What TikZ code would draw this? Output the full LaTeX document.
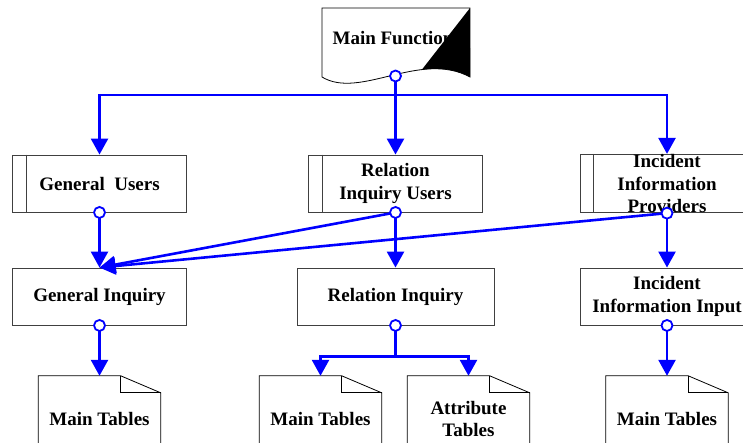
\documentclass[tikz,border=0pt]{standalone}
\usepackage{fontspec}
\setmainfont{Liberation Serif}
\usetikzlibrary{arrows.meta, positioning}
\newcommand{\lblfont}{\bfseries\fontsize{19}{22.5}\selectfont}

\begin{document}
\begin{tikzpicture}
	[   x=1pt, y=-1pt,
		box/.style={draw=black!75, line width=0.9pt, minimum width=174pt, minimum height=57pt, inner sep=0pt, align=center, font=\lblfont},
		doc/.style={minimum width=122pt, minimum height=86pt, inner sep=0pt, align=center, font=\lblfont},
		page/.style={draw=black, line width=0.8pt},
		port/.style={circle, draw=blue, line width=1.8pt, fill=white, minimum size=11pt, inner sep=0pt},
	]
	\tikzset{bus/.style={draw=blue, line width=2.6pt}}
	\tikzset{link/.style={bus, -{Triangle[length=16pt,width=17pt]}}}
	\path[use as bounding box] (0,0) rectangle (743,442);
	\clip (0,0) rectangle (743,442);
	
	% main function
	\draw[page] (322,8) -- (470,8) -- (470,77) .. controls (420,50) and (360,100) .. (322,77) -- cycle;
	\node[font=\lblfont] (mf) at (393,38.5) {Main Function};
	\begin{scope}
		\clip (322,8) -- (470,8) -- (470,77) .. controls (420,50) and (360,100) .. (322,77) -- cycle;
		\fill (470,8) -- (406,90) -- (472,90) -- cycle;
	\end{scope}
	\coordinate (mf-b) at (395.5,76);
	
	% users
	\node[box] (gu) at (99.5,183.5) {General\ \ Users};
	\node[box] (riu) at (395.5,183.5) {Relation\\Inquiry Users};
	\node[box] (iip) at (667,183.5) {Incident\\Information\\Providers};
	\foreach \n in {gu,riu,iip}
	{
		\draw[draw=black!75, line width=0.9pt] ([xshift=14pt]\n.north west) -- ([xshift=14pt]\n.south west);
	}
	
	% functions
	\node[box] (gi) at (99.5,296.5) {General Inquiry};
	\node[box, minimum width=197pt] (ri) at (395.5,296.5) {Relation Inquiry};
	\node[box] (iii) at (667,296.5) {Incident\\Information Input};
	
	% tables
	\node[doc] (mt1) at (99.5,419) {Main Tables};
	\node[doc] (mt2) at (320.5,419) {Main Tables};
	\node[doc] (at) at (468.5,419) {Attribute\\Tables};
	\node[doc] (mt3) at (667,419) {Main Tables};
	\foreach \d in {mt1,mt2,at,mt3}
	{
		\draw[page] (\d.north west) -- ([xshift=-40pt]\d.north east) -- ([yshift=-17pt]\d.north east) -- (\d.south east) -- (\d.south west) -- cycle;
		\draw[page] ([xshift=-40pt]\d.north east) |- ([yshift=-17pt]\d.north east);
	}
	
	% connectors
	\draw[bus] (mf-b) -- (395.5,95) coordinate (hub);
	\draw[link] (hub) -| (gu.north);
	\draw[link] (hub) -- (riu.north);
	\draw[link] (hub) -| (iip.north);
	\path[link] (gu.south) -- (gi.north);
	\path[link] (riu.south) -- (gi.north);
	\path[link] (iip.south) -- (gi.north);
	\path[link] (riu.south) -- (ri.north);
	\path[link] (iip.south) -- (iii.north);
	\path[link] (gi.south) -- (mt1.north);
	\path[link] (iii.south) -- (mt3.north);
	\draw[bus] (ri.south) -- ++(0,31) coordinate (ri-hub);
	\draw[link] (ri-hub) -| (mt2.north);
	\draw[link] (ri-hub) -| (at.north);
	
	\node[port] at (mf-b) {};
	\foreach \p in {gu,riu,iip,gi,ri,iii}
	{
		\node[port] (\p-o) at (\p.south) {};
	}
\end{tikzpicture}
\end{document}
